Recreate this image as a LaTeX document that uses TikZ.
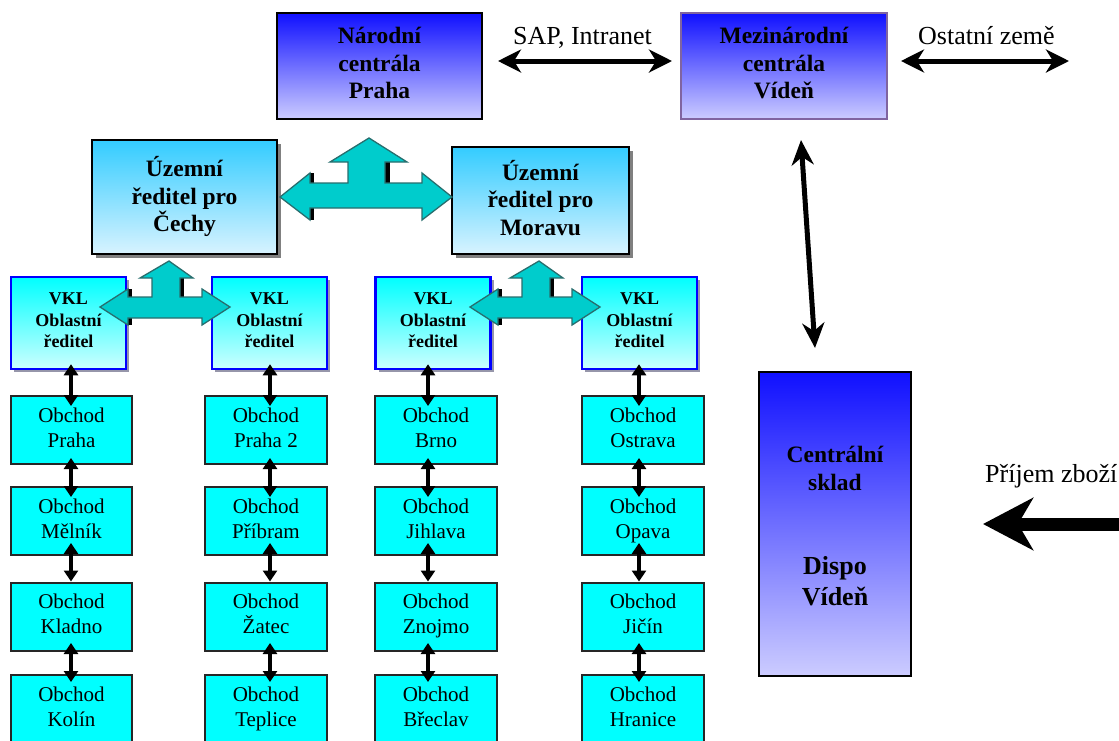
\documentclass[tikz,border=0pt]{standalone}
\usepackage{fontspec}
\setmainfont{Liberation Serif}
\usetikzlibrary{arrows.meta,shadows}
\definecolor{hqtop}{RGB}{16,16,255}
\definecolor{hqbot}{RGB}{204,204,255}
\definecolor{tertop}{RGB}{51,204,255}
\definecolor{terbot}{RGB}{216,243,255}
\definecolor{vkltop}{RGB}{0,255,255}
\definecolor{vklbot}{RGB}{204,255,255}
\definecolor{shopfill}{RGB}{0,255,255}
\definecolor{tealfill}{RGB}{0,204,204}
\definecolor{tealedge}{RGB}{40,110,110}
\definecolor{mezedge}{RGB}{128,100,160}
\definecolor{tershadow}{RGB}{128,128,128}
\definecolor{vklshadow}{RGB}{150,150,170}
\newcommand\ThreeWaySmall{%
  \fill[black] (127,289) rectangle (131.5,297.5);
  \fill[black] (127,317.5) rectangle (131.5,325);
  \fill[black] (179,278) rectangle (183.5,297.5);
  \draw[tri] (169,261) -- (193,278) -- (180,278) -- (180,297) -- (202,297) -- (202,289)
    -- (230,307) -- (202,325) -- (202,318) -- (128,318) -- (128,325) -- (100,307)
    -- (128,289) -- (128,297) -- (152,297) -- (152,278) -- (140,278) -- cycle;
}
\newcommand\HqStrut{\rule[-6pt]{0pt}{26pt}}
\newcommand\TerStrut{\rule[-6pt]{0pt}{25pt}}
\newcommand\VklStrut{\rule[-5pt]{0pt}{19pt}}
\newcommand\ShopStrut{\rule[-5.5pt]{0pt}{25.5pt}}
\begin{document}
\begin{tikzpicture}[x=1pt,y=-1pt,
  hq/.style={line width=2pt,top color=hqtop,bottom color=hqbot,inner sep=0pt,align=center,
    font=\bfseries\fontsize{23.5}{27.5}\selectfont,minimum width=205pt,minimum height=106pt,
    execute at begin node=\HqStrut,execute at end node=\HqStrut},
  ter/.style={draw=black,line width=2pt,top color=tertop,bottom color=terbot,inner sep=0pt,align=center,
    font=\bfseries\fontsize{23.5}{27.5}\selectfont,
    execute at begin node=\TerStrut,execute at end node=\TerStrut,
    drop shadow={shadow xshift=4pt,shadow yshift=-4pt,opacity=1,fill=tershadow}},
  vkl/.style={draw=blue,line width=2.5pt,top color=vkltop,bottom color=vklbot,inner sep=0pt,align=center,
    font=\bfseries\fontsize{18}{21.5}\selectfont,minimum width=115pt,minimum height=92pt,
    execute at begin node=\VklStrut,execute at end node=\VklStrut,
    drop shadow={shadow xshift=3pt,shadow yshift=-3pt,opacity=1,fill=vklshadow}},
  shop/.style={draw=black!85,line width=2pt,fill=shopfill,inner sep=0pt,align=center,
    font=\fontsize{21}{25}\selectfont,minimum width=121.5pt,minimum height=68pt,
    execute at begin node=\ShopStrut,execute at end node=\ShopStrut},
  lbl/.style={font=\fontsize{26}{30}\selectfont,inner sep=0pt,anchor=base west},
  skladtxt/.style={font=\bfseries\fontsize{23.5}{28}\selectfont,inner sep=0pt,anchor=base},
  dispotxt/.style={font=\bfseries\fontsize{26}{31}\selectfont,inner sep=0pt,anchor=base},
  tri/.style={fill=tealfill,draw=tealedge,line width=1.3pt,line join=miter},
  dblarr/.style={line width=5pt,{Stealth[length=23pt,width=23pt,inset=7pt]}-{Stealth[length=23pt,width=23pt,inset=7pt]}},
  vertarr/.style={line width=5pt,{Stealth[length=25pt,width=22pt,inset=8pt]}-{Stealth[length=25pt,width=22pt,inset=8pt]}},
  sarr/.style={line width=4pt,{Triangle[length=11pt,width=14pt]}-{Triangle[length=11pt,width=14pt]}},
  bigarr/.style={line width=13pt,-{Stealth[length=50pt,width=52pt,inset=15pt]}}
]
\useasboundingbox (0,0) rectangle (1119,740);
\fill[white] (0,0) rectangle (1119,740);

% headquarters
\node[hq,draw=black] (narodni) at (379.5,66) {Národní\\centrála\\Praha};
\node[hq,draw=mezedge,line width=2.5pt,minimum width=206pt] (mezi) at (784,66) {Mezinárodní\\centrála\\Vídeň};

% territorial directors
\node[ter,minimum width=185pt,minimum height=114pt] (cechy) at (184.5,197) {Územní\\ředitel pro\\Čechy};
\node[ter,minimum width=177pt,minimum height=107pt] (morava) at (540.5,200.5) {Územní\\ředitel pro\\Moravu};

% regional directors
\node[vkl] (vkl1) at (68.5,323) {VKL\\Oblastní\\ředitel};
\node[vkl] (vkl2) at (269.5,323) {VKL\\Oblastní\\ředitel};
\node[vkl] (vkl3) at (433,323) {VKL\\Oblastní\\ředitel};
\node[vkl] (vkl4) at (639.5,323) {VKL\\Oblastní\\ředitel};

% shops
\node[shop] (o11) at (71.5,430) {Obchod\\Praha};
\node[shop] (o12) at (71.5,521) {Obchod\\Mělník};
\node[shop] (o13) at (71.5,616.5) {Obchod\\Kladno};
\node[shop] (o14) at (71.5,709) {Obchod\\Kolín};
\node[shop] (o21) at (266,430) {Obchod\\Praha 2};
\node[shop] (o22) at (266,521) {Obchod\\Příbram};
\node[shop] (o23) at (266,616.5) {Obchod\\Žatec};
\node[shop] (o24) at (266,709) {Obchod\\Teplice};
\node[shop] (o31) at (436,430) {Obchod\\Brno};
\node[shop] (o32) at (436,521) {Obchod\\Jihlava};
\node[shop] (o33) at (436,616.5) {Obchod\\Znojmo};
\node[shop] (o34) at (436,709) {Obchod\\Břeclav};
\node[shop] (o41) at (643,430) {Obchod\\Ostrava};
\node[shop] (o42) at (643,521) {Obchod\\Opava};
\node[shop] (o43) at (643,616.5) {Obchod\\Jičín};
\node[shop] (o44) at (643,709) {Obchod\\Hranice};

% central warehouse
\node[draw=black,line width=2.5pt,top color=hqtop,bottom color=hqbot,minimum width=152pt,minimum height=304pt,inner sep=0pt] (sklad) at (835,524) {};
\node[skladtxt] (t1) at (835,462) {Centrální};
\node[skladtxt] (t2) at (835,490) {sklad};
\node[dispotxt] (t3) at (835,574) {Dispo};
\node[dispotxt] (t4) at (835,605) {Vídeň};

% labels
\node[lbl] (sap) at (513,44) {SAP, Intranet};
\node[lbl] (ost) at (918,44) {Ostatní země};
\node[lbl] (prijem) at (985,482) {Příjem zboží};

% free arrow ends
\coordinate (sapL) at (498,61);
\coordinate (sapR) at (672,61);
\coordinate (ostL) at (901,61);
\coordinate (ostR) at (1069,61);
\coordinate (vtop) at (801,140);
\coordinate (vbot) at (815,348);
\coordinate (inS) at (1135,524);
\coordinate (inE) at (983,524);

\draw[dblarr] (sapL) -- (sapR);
\draw[dblarr] (ostL) -- (ostR);
\draw[vertarr] (vtop) -- (vbot);
\draw[bigarr] (inS) -- (inE);

% big three-way arrow
\fill[black] (309,173) rectangle (314,183.5);
\fill[black] (309,207.5) rectangle (314,220);
\fill[black] (384,162) rectangle (389.5,183.5);
\draw[tri] (369,138) -- (407,162) -- (385,162) -- (385,183) -- (422,183) -- (422,173)
  -- (452,197) -- (422,220) -- (422,208) -- (310,208) -- (310,220) -- (280,197)
  -- (310,173) -- (310,183) -- (348,183) -- (348,162) -- (330,162) -- cycle;

% small three-way arrows
\ThreeWaySmall
\begin{scope}[xshift=370pt]
\ThreeWaySmall
\end{scope}

% shop connectors
\foreach \c/\da/\db in {1/2.5/-0.5, 2/0.5/4, 3/-5/-8, 4/-0.5/-4} {
  \draw[sarr] ([xshift=\da pt,yshift=6pt]vkl\c.south) -- ([xshift=\db pt,yshift=-11pt]o\c1.north);
  \draw[sarr] ([xshift=\db pt,yshift=7pt]o\c1.south) -- ([xshift=\db pt,yshift=-11pt]o\c2.north);
  \draw[sarr] ([xshift=\db pt,yshift=13pt]o\c2.south) -- ([xshift=\db pt,yshift=0pt]o\c3.north);
  \draw[sarr] ([xshift=\db pt,yshift=8.5pt]o\c3.south) -- ([xshift=\db pt,yshift=-8pt]o\c4.north);
}
\end{tikzpicture}
\end{document}
